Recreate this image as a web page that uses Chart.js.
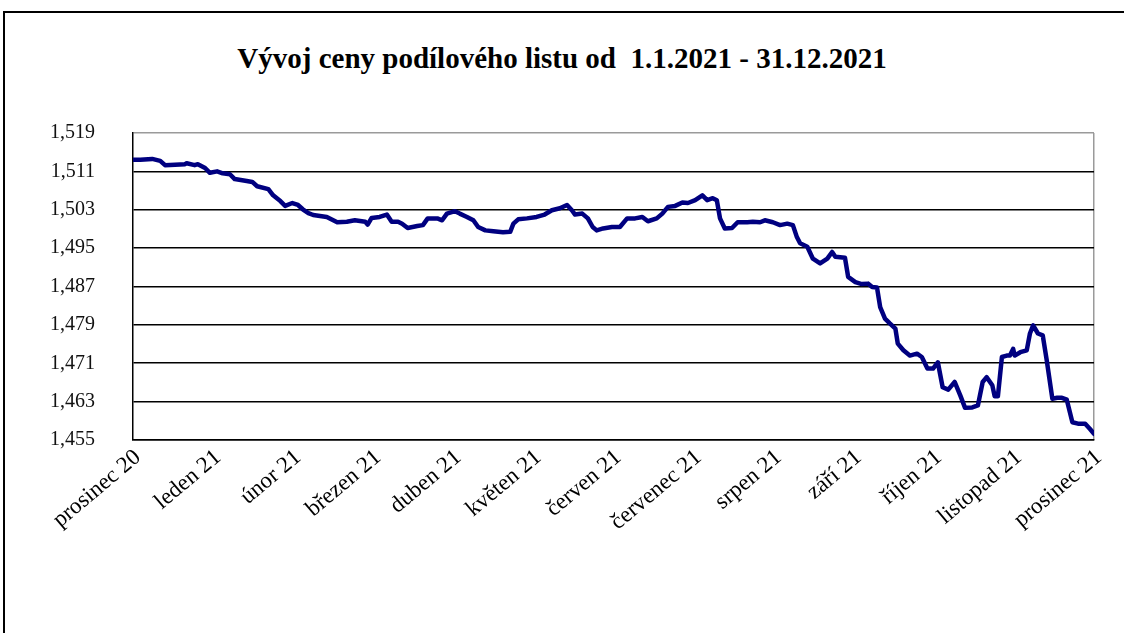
<!DOCTYPE html>
<html lang="cs">
<head>
<meta charset="utf-8">
<title>Vývoj ceny podílového listu</title>
<script src="https://cdn.jsdelivr.net/npm/chart.js@4/dist/chart.umd.min.js"></script>
<style>
    html, body { margin: 0; padding: 0; background: #fff; }
    body { width: 1124px; height: 633px; position: relative; overflow: hidden; }
    .frame {
        position: absolute; left: 3px; top: 11px; width: 1140px; height: 650px;
        border: 2px solid #000; box-sizing: border-box;
    }
    .chart-title {
        position: absolute; left: 0; width: 1124px; top: 41px; text-align: center;
        font-family: "Liberation Serif", "Times New Roman", serif;
        font-weight: bold; font-size: 29px; line-height: 34px; color: #000; white-space: pre;
    }
    #wrap { position: absolute; left: 0; top: 0; width: 1124px; height: 633px; }
</style>
</head>
<body>
<div class="frame"></div>
<div class="chart-title">Vývoj ceny podílového listu od  1.1.2021 - 31.12.2021</div>
<div id="wrap"><canvas id="priceChart"></canvas></div>
<script>
// Month tick labels (x = 0 .. 12)
const monthLabels = ['prosinec 20', 'leden 21', 'únor 21', 'březen 21', 'duben 21', 'květen 21',
    'červen 21', 'červenec 21', 'srpen 21', 'září 21', 'říjen 21', 'listopad 21', 'prosinec 21'];

// Position of each reading on the month axis
const pointMonth = [
    0.00, 0.09, 0.24, 0.34, 0.40, 0.65, 0.67, 0.77, 0.81, 0.90,
    0.96, 1.05, 1.12, 1.21, 1.27, 1.42, 1.49, 1.55, 1.69, 1.75,
    1.84, 1.90, 1.99, 2.06, 2.12, 2.19, 2.25, 2.42, 2.55, 2.67,
    2.77, 2.90, 2.93, 2.98, 3.08, 3.17, 3.23, 3.31, 3.36, 3.43,
    3.55, 3.62, 3.68, 3.80, 3.86, 3.92, 4.02, 4.08, 4.17, 4.25,
    4.31, 4.40, 4.50, 4.62, 4.71, 4.75, 4.81, 4.92, 5.04, 5.14,
    5.23, 5.33, 5.42, 5.48, 5.52, 5.61, 5.68, 5.74, 5.79, 5.87,
    5.98, 6.08, 6.17, 6.27, 6.36, 6.43, 6.54, 6.61, 6.68, 6.77,
    6.86, 6.93, 7.02, 7.11, 7.17, 7.24, 7.29, 7.33, 7.39, 7.48,
    7.55, 7.67, 7.74, 7.83, 7.89, 7.99, 8.08, 8.17, 8.24, 8.29,
    8.33, 8.42, 8.49, 8.58, 8.67, 8.73, 8.77, 8.89, 8.93, 9.02,
    9.10, 9.18, 9.23, 9.29, 9.33, 9.39, 9.45, 9.52, 9.55, 9.62,
    9.70, 9.79, 9.85, 9.92, 9.99, 10.05, 10.11, 10.18, 10.26, 10.33,
    10.39, 10.48, 10.55, 10.61, 10.66, 10.73, 10.76, 10.80, 10.85, 10.91,
    10.95, 10.99, 11.01, 11.08, 11.16, 11.20, 11.24, 11.30, 11.36, 11.41,
    11.48, 11.54, 11.60, 11.66, 11.73, 11.80, 11.89, 11.95, 12.00
];

// Unit price
const pointPrice = [
    1.5134, 1.5134, 1.5136, 1.5132, 1.5123, 1.5125, 1.5127, 1.5123, 1.5125, 1.5117,
    1.5107, 1.5110, 1.5106, 1.5104, 1.5094, 1.5090, 1.5088, 1.5079, 1.5073, 1.5060,
    1.5048, 1.5038, 1.5044, 1.5040, 1.5031, 1.5023, 1.5019, 1.5015, 1.5004, 1.5005,
    1.5008, 1.5005, 1.4999, 1.5013, 1.5015, 1.5020, 1.5005, 1.5005, 1.5001, 1.4992,
    1.4996, 1.4998, 1.5012, 1.5012, 1.5008, 1.5022, 1.5027, 1.5022, 1.5015, 1.5008,
    1.4994, 1.4987, 1.4985, 1.4983, 1.4984, 1.5001, 1.5010, 1.5012, 1.5015, 1.5020,
    1.5029, 1.5033, 1.5040, 1.5029, 1.5020, 1.5022, 1.5012, 1.4994, 1.4987, 1.4991,
    1.4994, 1.4994, 1.5012, 1.5012, 1.5015, 1.5006, 1.5012, 1.5022, 1.5036, 1.5038,
    1.5045, 1.5044, 1.5050, 1.5060, 1.5050, 1.5054, 1.5050, 1.5012, 1.4991, 1.4992,
    1.5004, 1.5004, 1.5005, 1.5004, 1.5008, 1.5004, 1.4998, 1.5001, 1.4998, 1.4973,
    1.4960, 1.4953, 1.4928, 1.4918, 1.4928, 1.4942, 1.4932, 1.4930, 1.4890, 1.4879,
    1.4875, 1.4876, 1.4869, 1.4868, 1.4827, 1.4803, 1.4793, 1.4782, 1.4751, 1.4737,
    1.4726, 1.4730, 1.4723, 1.4699, 1.4699, 1.4712, 1.4660, 1.4655, 1.4671, 1.4643,
    1.4617, 1.4618, 1.4622, 1.4671, 1.4681, 1.4664, 1.4641, 1.4641, 1.4723, 1.4726,
    1.4726, 1.4740, 1.4726, 1.4733, 1.4737, 1.4772, 1.4789, 1.4772, 1.4768, 1.4716,
    1.4636, 1.4638, 1.4638, 1.4634, 1.4587, 1.4584, 1.4584, 1.4573, 1.4563
];

// Y axis range and step
const yMin = 1.455;
const yMax = 1.519;
const yStep = 0.008;

const serif = '"Liberation Serif", "Times New Roman", serif';

const chartData = pointMonth.map((m, i) => ({ x: m, y: pointPrice[i] }));

const ctx = document.getElementById('priceChart').getContext('2d');
const chart = new Chart(ctx, {
    type: 'line',
    data: {
        datasets: [{
            data: chartData,
            borderColor: '#000080',
            borderWidth: 4.5,
            pointRadius: 0,
            tension: 0,
            borderJoinStyle: 'round',
            borderCapStyle: 'round',
            fill: false
        }]
    },
    options: {
        responsive: true,
        maintainAspectRatio: false,
        animation: false,
        layout: { padding: { left: 0, right: 30, top: 133, bottom: 0 } },
        plugins: {
            legend: { display: false },
            tooltip: { enabled: false }
        },
        scales: {
            x: {
                type: 'linear',
                min: 0,
                max: 12,
                afterFit: function(scale) { scale.height = 193; },
                border: { display: true, color: '#000', width: 1.5 },
                grid: {
                    drawTicks: false,
                    color: c => (c.index === 12 ? '#9a9a9a' : 'rgba(0,0,0,0)'),
                    lineWidth: 1.5
                },
                ticks: {
                    stepSize: 1,
                    autoSkip: false,
                    minRotation: 40,
                    maxRotation: 40,
                    padding: 4,
                    labelOffset: 5,
                    color: '#000',
                    font: { family: serif, size: 23 },
                    callback: v => monthLabels[v]
                }
            },
            y: {
                min: yMin,
                max: yMax,
                afterFit: function(scale) { scale.width = 133; },
                border: { display: true, color: '#000', width: 1.5 },
                grid: {
                    drawTicks: false,
                    color: c => (c.index === 8 ? '#9a9a9a' : '#000'),
                    lineWidth: 1.5
                },
                ticks: {
                    stepSize: yStep,
                    padding: 38,
                    color: '#111',
                    font: { family: serif, size: 20 },
                    callback: v => v.toFixed(3).replace('.', ',')
                }
            }
        }
    }
});
</script>
</body>
</html>
